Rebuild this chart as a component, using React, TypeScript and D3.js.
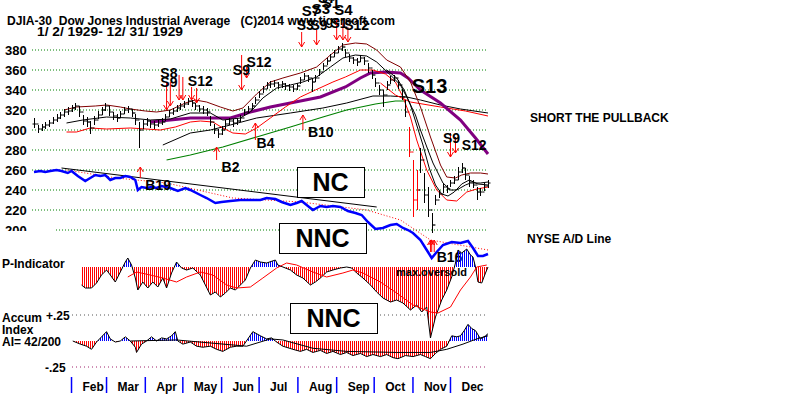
import * as d3 from "d3"

const START = new Date(1929, 0, 2)
const END = new Date(1929, 11, 31)
const BAR_STEP = 3 // one bar every 3 calendar days
const FONT = "'Liberation Sans', Arial, sans-serif"

const priceTicks = [380, 360, 340, 320, 300, 280, 260, 240, 220, 200]
const monthLabels = ["Feb", "Mar", "Apr", "May", "Jun", "Jul", "Aug", "Sep", "Oct", "Nov", "Dec"]

// DJIA bars: [high, low, close]
const bars: [number, number, number][] = [
  [312, 302, 306], [305, 297, 301], [306, 299, 303], [308, 301, 305], [310, 303, 307], [313, 306, 310],
  [316, 308, 312], [318, 311, 315], [321, 313, 318], [323, 315, 319], [325, 318, 322], [327, 320, 324],
  [324, 313, 318], [315, 305, 309], [313, 303, 308], [309, 296, 302], [314, 305, 310], [319, 311, 315],
  [323, 315, 320], [327, 319, 324], [324, 314, 318], [318, 310, 314], [316, 308, 312], [319, 312, 316],
  [323, 316, 320], [324, 317, 321], [321, 313, 317], [316, 305, 310], [308, 282, 300], [310, 301, 306],
  [312, 304, 309], [310, 302, 306], [309, 301, 305], [310, 303, 307], [312, 305, 308], [316, 309, 313],
  [320, 313, 317], [322, 315, 319], [325, 318, 322], [327, 320, 324], [329, 322, 326], [332, 325, 329],
  [330, 323, 327], [327, 320, 324], [325, 318, 321], [324, 316, 320], [322, 314, 318], [314, 304, 308],
  [306, 296, 300], [301, 292, 296], [304, 295, 300], [310, 301, 306], [312, 305, 309], [311, 303, 307],
  [312, 305, 309], [315, 308, 312], [321, 314, 318], [324, 317, 321], [327, 320, 324], [333, 326, 330],
  [339, 332, 336], [344, 337, 341], [348, 341, 345], [349, 342, 346], [350, 343, 347], [348, 341, 345],
  [349, 342, 346], [347, 340, 344], [346, 339, 343], [345, 338, 341], [347, 340, 344], [353, 346, 350],
  [357, 350, 354], [355, 348, 352], [351, 338, 348], [355, 348, 352], [361, 354, 358], [367, 360, 364],
  [372, 365, 369], [376, 369, 373], [380, 373, 377], [384, 377, 381], [387, 379, 383], [381, 373, 377],
  [376, 368, 372], [373, 366, 370], [372, 364, 368], [375, 368, 372], [373, 365, 369], [367, 357, 362],
  [360, 351, 355], [352, 343, 347], [345, 335, 340], [340, 323, 335], [349, 340, 345], [354, 346, 350],
  [355, 348, 352], [350, 341, 345], [341, 330, 333], [330, 313, 318], [303, 273, 278], [270, 213, 230],
  [260, 220, 240], [282, 257, 270], [257, 227, 235], [243, 213, 220], [217, 197, 205], [235, 225, 230],
  [240, 232, 236], [247, 237, 243], [245, 237, 241], [250, 243, 247], [254, 246, 250], [263, 250, 258],
  [267, 257, 262], [262, 250, 255], [254, 243, 248], [250, 242, 245], [243, 230, 238], [242, 234, 238],
  [247, 239, 244], [250, 242, 247],
]
const redBars = [100, 101, 102]

// moving averages and bands on the price axis: [day since Jan 2, value]
const upperBand: [number, number][] = [
  [24, 320], [34, 323], [49, 324], [58, 325], [69, 323], [77, 321], [89, 319], [98, 318], [109, 320],
  [121, 327], [129, 330], [138, 328], [149, 323], [159, 319], [167, 322], [178, 336], [189, 348],
  [199, 352], [213, 357], [226, 363], [237, 375], [247, 385], [257, 387], [266, 386], [274, 380],
  [282, 370], [293, 363], [301, 348], [309, 323], [317, 293], [325, 265], [330, 253], [337, 252],
  [342, 255], [349, 257], [357, 257], [363, 256],
]
const midMA: [number, number][] = [
  [26, 307], [39, 310], [58, 313], [77, 312], [93, 310], [109, 311], [125, 317], [141, 317], [151, 310],
  [165, 312], [173, 318], [183, 332], [194, 342], [205, 345], [215, 348], [226, 353], [237, 363],
  [247, 372], [257, 375], [266, 374], [274, 368], [285, 355], [293, 345], [298, 333], [305, 315],
  [309, 300], [315, 280], [319, 267], [327, 247], [333, 240], [338, 240], [345, 245], [349, 247],
  [357, 247], [363, 248],
]
const fastMA: [number, number][] = [
  [282, 360], [290, 352], [296, 340], [301, 325], [306, 305], [311, 285], [316, 262], [321, 245],
  [326, 236], [331, 234], [336, 238], [342, 246], [348, 250], [355, 246], [363, 245],
]
const lowerBand: [number, number][] = [
  [26, 298], [34, 298], [45, 302], [58, 301], [77, 302], [90, 301], [101, 300], [113, 303], [125, 308],
  [133, 309], [143, 308], [151, 302], [159, 297], [169, 296], [178, 302], [189, 312], [201, 323],
  [213, 333], [225, 340], [239, 348], [249, 353], [261, 360], [271, 360], [281, 356], [289, 348],
  [295, 333], [301, 313], [306, 290], [314, 260], [322, 240], [330, 230], [338, 229], [346, 238],
  [354, 241], [363, 243],
]
const slowMA: [number, number][] = [
  [103, 285], [125, 297], [141, 300], [157, 305], [178, 312], [205, 317], [231, 322], [250, 327],
  [271, 334], [285, 334], [298, 333], [309, 330], [325, 325], [341, 321], [363, 317],
]
const greenMA: [number, number][] = [
  [106, 270], [125, 275], [151, 283], [178, 293], [205, 303], [231, 313], [250, 320], [273, 326],
  [289, 329], [297, 329],
]
const purpleMA: [number, number][] = [
  [93, 308], [109, 310], [125, 312], [157, 312], [173, 318], [189, 323], [205, 327], [229, 333],
  [249, 343], [261, 352], [269, 357], [281, 358], [293, 357], [299, 352], [309, 340], [325, 327],
  [341, 310], [353, 292], [363, 276],
]
const redLongMA: [number, number][] = [
  [277, 347], [289, 335], [301, 328], [325, 323], [345, 319], [363, 314],
]

// NYSE A/D line, drawn on the price axis
const adLine: [number, number][] = [
  [0, 258], [5, 259], [9, 258], [13, 259], [18, 260], [22, 259], [27, 257], [30, 259], [35, 254],
  [41, 249], [45, 252], [49, 255], [53, 254], [57, 255], [61, 250], [65, 252], [69, 252], [73, 254],
  [77, 253], [81, 250], [83, 240], [86, 243], [90, 242], [94, 243], [98, 242], [102, 244], [109, 242],
  [115, 239], [121, 242], [125, 240], [133, 235], [138, 232], [145, 227], [150, 228], [157, 229],
  [165, 230], [173, 230], [181, 230], [186, 232], [193, 231], [198, 228], [205, 225], [210, 227],
  [214, 229], [219, 224], [223, 220], [229, 224], [234, 223], [239, 224], [245, 223], [251, 219],
  [257, 217], [262, 215], [267, 208], [273, 201], [279, 202], [285, 205], [290, 206], [295, 202],
  [299, 200], [303, 197], [309, 190], [314, 180], [318, 172], [322, 178], [327, 185], [334, 188],
  [341, 187], [347, 189], [351, 182], [355, 174], [359, 174], [363, 176],
]
const adTrend: [number, number][] = [[22, 262], [274, 223]]
const adAvg: [number, number][] = [
  [26, 260], [66, 252], [106, 247], [159, 232], [213, 228], [266, 220], [293, 210], [317, 190], [363, 180],
]

// P-Indicator
const pInd: [number, number][] = [
  [38, -18], [41, -21], [46, -21], [50, -16], [54, -8], [58, -3], [61, -8], [65, -15], [69, -5],
  [73, 5], [75, 9], [78, 2], [81, -11], [83, -23], [87, -15], [91, -21], [95, -15], [99, -20],
  [103, -11], [106, -21], [110, -6], [114, 5], [118, -1], [122, -3], [127, -1], [133, -8], [137, -18],
  [141, -28], [145, -25], [149, -30], [153, -26], [157, -21], [161, -23], [165, -18], [169, -13],
  [173, -1], [177, 7], [181, 5], [186, 4], [193, 7], [195, 2], [199, 0], [205, -3], [210, -8],
  [215, -11], [221, -18], [225, -15], [229, -11], [234, -5], [239, -3], [245, -1], [250, 0],
  [254, -1], [258, -6], [263, -11], [269, -18], [274, -25], [279, -31], [285, -35], [290, -33],
  [295, -36], [301, -43], [306, -38], [310, -45], [314, -40], [317, -71], [321, -50], [326, -33],
  [330, -23], [334, -10], [337, 4], [339, 17], [342, 14], [346, 18], [349, 12], [351, 10], [353, 0],
  [355, -15], [358, -16], [361, -6], [363, 0],
]
const pMA: [number, number][] = [
  [75, -10], [82, -5], [93, -8], [103, -11], [114, -15], [122, -10], [133, -5], [143, -8], [154, -18],
  [162, -21], [173, -20], [183, -11], [194, -1], [202, 4], [210, 2], [223, -5], [234, -10], [247, -6],
  [255, -3], [263, -6], [277, -15], [290, -26], [303, -38], [317, -45], [323, -46], [333, -40],
  [341, -23], [349, -10], [354, 0], [362, 2],
]

// Accumulation Index
const accum: [number, number][] = [
  [31, 0], [37, -0.03], [42, -0.05], [46, -0.08], [50, -0.01], [54, 0.04], [58, 0.09], [61, 0.02],
  [65, -0.01], [69, 0], [73, 0.04], [77, 0], [81, -0.06], [82, -0.11], [86, -0.03], [90, 0], [94, 0.04],
  [98, 0], [102, 0.03], [106, 0.02], [110, 0.05], [113, 0.09], [115, 0], [119, -0.03], [125, -0.01],
  [130, -0.05], [135, -0.06], [141, -0.05], [146, -0.08], [151, -0.1], [157, -0.06], [162, -0.05],
  [167, -0.05], [171, 0.02], [175, 0.09], [181, 0.05], [186, 0.02], [190, 0.03], [194, -0.01],
  [199, -0.05], [207, -0.08], [213, -0.1], [218, -0.08], [223, -0.11], [229, -0.09], [234, -0.12],
  [239, -0.1], [245, -0.13], [250, -0.11], [255, -0.14], [261, -0.12], [266, -0.15], [271, -0.13],
  [277, -0.15], [282, -0.13], [287, -0.16], [291, -0.17], [297, -0.14], [303, -0.15], [309, -0.13],
  [313, -0.15], [317, -0.17], [321, -0.12], [325, -0.08], [330, -0.05], [334, 0.05], [338, 0.04],
  [341, 0.05], [344, 0.1], [347, 0.16], [350, 0.12], [353, 0.1], [357, 0.02], [361, 0.05], [363, 0.07],
]
const accumMA: [number, number][] = [
  [77, 0], [114, 0.01], [170, -0.05], [189, 0.02], [199, 0.01], [223, -0.07], [250, -0.1], [290, -0.11],
  [303, -0.11], [317, -0.11], [330, -0.08], [343, -0.03], [354, 0.02], [363, 0.05],
]

// signals: [day, from price, to price]
const sellArrows: [number, number, number][] = [
  [106, 347, 320], [109, 348, 324], [116, 355, 330], [119, 353, 330], [126, 343, 330], [130, 342, 327],
  [166, 375, 340], [170, 363, 352], [214, 398, 383], [226, 400, 385], [242, 410, 390], [247, 407, 390],
  [251, 403, 388], [333, 297, 273], [337, 293, 277],
]
const buyArrows: [number, number, number][] = [
  [85, 252, 263], [146, 270, 283], [177, 290, 307], [215, 300, 315], [317, 178, 190], [318, 178, 190],
  [320, 178, 190],
]
// [text, day, price, font size]
const signalLabels: [string, number, number, number][] = [
  ["S8", 101, 352, 14], ["S9", 101, 343, 14], ["S12", 123, 344, 14], ["S9", 159, 355, 14],
  ["S12", 170, 363, 14], ["S7", 227, 427, 15], ["S7", 214, 414, 15], ["S3", 222, 416, 15],
  ["S1", 230, 422, 15], ["S4", 240, 415, 15], ["S3", 210, 400, 14], ["S9", 221, 400, 14],
  ["S1", 237, 402, 14], ["S12", 248, 400, 14], ["S13", 302, 337, 20], ["S9", 327, 287, 14],
  ["S12", 342, 280, 14], ["B19", 89, 240, 14], ["B2", 150, 258, 14], ["B4", 178, 282, 14],
  ["B10", 219, 293, 14], ["B16", 322, 168, 14],
]

const day = (d: number) => d3.timeDay.offset(START, d)

export default function App() {
  const x = d3.scaleTime().domain([START, END]).range([34, 488])
  const yP = d3.scaleLinear().domain([200, 380]).range([230, 50])
  const yI = d3.scaleLinear().domain([0, -50]).range([267, 317])
  const yA = d3.scaleLinear().domain([-0.25, 0.25]).range([367, 315])

  const lineFor = (y: d3.ScaleLinear<number, number>) =>
    d3.line<[number, number]>().x(d => x(day(d[0]))).y(d => y(d[1]))
  const pLine = lineFor(yP)
  const iLine = lineFor(yI)
  const aLine = lineFor(yA)
  const iArea = d3.area<[number, number]>().x(d => x(day(d[0]))).y0(yI(0)).y1(d => yI(d[1]))
  const aArea = d3.area<[number, number]>().x(d => x(day(d[0]))).y0(yA(0)).y1(d => yA(d[1]))

  const months = d3.timeMonth.range(new Date(1929, 1, 1), new Date(1929, 11, 2))

  const bold = { fontFamily: FONT, fontWeight: "bold" as const, fill: "#000" }

  return (
    <svg width={800} height={397} style={{ position: "absolute", left: 0, top: 0, background: "#fff" }}>
      <defs>
        <pattern id="hr" width="2" height="4" patternUnits="userSpaceOnUse">
          <rect width="1" height="4" fill="#ff0000" />
        </pattern>
        <pattern id="hb" width="2" height="4" patternUnits="userSpaceOnUse">
          <rect width="1" height="4" fill="#0000ff" />
        </pattern>
        <clipPath id="iUp"><rect x={0} y={0} width={800} height={yI(0)} /></clipPath>
        <clipPath id="iDn"><rect x={0} y={yI(0)} width={800} height={200} /></clipPath>
        <clipPath id="aUp"><rect x={0} y={0} width={800} height={yA(0)} /></clipPath>
        <clipPath id="aDn"><rect x={0} y={yA(0)} width={800} height={200} /></clipPath>
        <clipPath id="cut200"><rect x={0} y={0} width={60} height={231} /></clipPath>
      </defs>

      {/* title */}
      <text x={7} y={25} fontSize={12} textLength={388} lengthAdjust="spacingAndGlyphs"
        style={{ whiteSpace: "pre" }} {...bold}>
        {"DJIA-30  Dow Jones Industrial Average   (C)2014 www.tigersoft.com"}
      </text>
      <text x={37} y={36} fontSize={12} textLength={146} lengthAdjust="spacingAndGlyphs" {...bold}>
        1/ 2/ 1929- 12/ 31/ 1929
      </text>

      {/* price grid */}
      {priceTicks.map(t => (
        <g key={t}>
          <line x1={t === 200 ? 56 : 32} x2={488} y1={yP(t)} y2={yP(t)} stroke="#008000" strokeDasharray="1,2" />
          <text x={5} y={yP(t) + 5} fontSize={13} clipPath={t === 200 ? "url(#cut200)" : undefined} {...bold}>{t}</text>
        </g>
      ))}

      {/* moving averages */}
      <path d={pLine(greenMA)!} fill="none" stroke="#008000" strokeWidth={1.2} />
      <path d={pLine(slowMA)!} fill="none" stroke="#000" strokeWidth={1} />
      <path d={pLine(redLongMA)!} fill="none" stroke="#ff0000" strokeWidth={1} />
      <path d={pLine(purpleMA)!} fill="none" stroke="#800080" strokeWidth={3} />
      <path d={pLine(upperBand)!} fill="none" stroke="#800000" strokeWidth={1} />
      <path d={pLine(lowerBand)!} fill="none" stroke="#ff0000" strokeWidth={1} />
      <path d={pLine(midMA)!} fill="none" stroke="#000" strokeWidth={1} />
      <path d={pLine(fastMA)!} fill="none" stroke="#000" strokeWidth={1} />

      {/* A/D line */}
      <path d={pLine(adTrend)!} fill="none" stroke="#000" strokeWidth={1} />
      <path d={pLine(adAvg)!} fill="none" stroke="#ff0000" strokeDasharray="1,2" />
      <path d={pLine(adLine)!} fill="none" stroke="#0000ff" strokeWidth={2.5} />

      {/* price bars */}
      {bars.map((b, i) => {
        const bx = Math.round(x(day(i * BAR_STEP))) + 0.5
        const c = redBars.includes(i) ? "#ff0000" : "#000"
        const prev = i > 0 ? bars[i - 1][2] : b[2]
        return (
          <g key={i} stroke={c}>
            <line x1={bx} x2={bx} y1={yP(b[0])} y2={yP(b[1])} />
            <line x1={bx - 2} x2={bx} y1={yP(prev)} y2={yP(prev)} />
            <line x1={bx} x2={bx + 2} y1={yP(b[2])} y2={yP(b[2])} />
          </g>
        )
      })}

      {/* signal arrows */}
      {sellArrows.map(([d, a, b], i) => {
        const ax = x(day(d))
        const y2 = yP(b)
        return (
          <g key={"s" + i} stroke="#ff0000" fill="none">
            <line x1={ax} x2={ax} y1={yP(a)} y2={y2} />
            <polyline points={`${ax - 3},${y2 - 5} ${ax},${y2} ${ax + 3},${y2 - 5}`} />
          </g>
        )
      })}
      {buyArrows.map(([d, a, b], i) => {
        const ax = x(day(d))
        const y2 = yP(b)
        return (
          <g key={"b" + i} stroke="#ff0000" fill="none">
            <line x1={ax} x2={ax} y1={yP(a)} y2={y2} />
            <polyline points={`${ax - 3},${y2 + 5} ${ax},${y2} ${ax + 3},${y2 + 5}`} />
          </g>
        )
      })}
      {signalLabels.map(([t, d, p, s], i) => (
        <text key={"l" + i} x={x(day(d))} y={yP(p)} fontSize={s} {...bold}>{t}</text>
      ))}

      {/* P-Indicator */}
      <text x={2} y={268} fontSize={12} {...bold}>P-Indicator</text>
      <path d={iArea(pInd)!} fill="url(#hb)" clipPath="url(#iUp)" />
      <path d={iArea(pInd)!} fill="url(#hr)" clipPath="url(#iDn)" />
      <path d={iLine(pInd)!} fill="none" stroke="#000" />
      <path d={iLine(pMA)!} fill="none" stroke="#ff0000" />
      <text x={396} y={276} fontSize={11} {...bold}>max.oversold</text>

      {/* Accumulation index */}
      <line x1={72} x2={488} y1={yA(0.25)} y2={yA(0.25)} stroke="#555" strokeDasharray="1,3" />
      <line x1={72} x2={488} y1={yA(-0.25)} y2={yA(-0.25)} stroke="#a0206a" strokeDasharray="1,3" />
      <text x={46} y={320} fontSize={12} {...bold}>+.25</text>
      <text x={45} y={372} fontSize={12} {...bold}>-.25</text>
      <text x={2} y={322} fontSize={12} {...bold}>Accum</text>
      <text x={2} y={334} fontSize={12} {...bold}>Index</text>
      <text x={2} y={346} fontSize={12} {...bold}>AI= 42/200</text>
      <path d={aArea(accum)!} fill="url(#hb)" clipPath="url(#aUp)" />
      <path d={aArea(accum)!} fill="url(#hr)" clipPath="url(#aDn)" />
      <path d={aLine(accum)!} fill="none" stroke="#000" />
      <path d={aLine(accumMA)!} fill="none" stroke="#000" />

      {/* comment boxes */}
      {[
        { t: "NC", x0: 297, y0: 167, w: 67 },
        { t: "NNC", x0: 279, y0: 223, w: 87 },
        { t: "NNC", x0: 290, y0: 303, w: 87 },
      ].map((b, i) => (
        <g key={"box" + i}>
          <rect x={b.x0 + 0.5} y={b.y0 + 0.5} width={b.w} height={30} fill="#fff" stroke="#000" />
          <text x={b.x0 + b.w / 2} y={b.y0 + 24} textAnchor="middle" fontSize={25} {...bold}>{b.t}</text>
        </g>
      ))}

      <text x={530} y={122} fontSize={12} {...bold}>SHORT THE PULLBACK</text>
      <text x={527} y={243} fontSize={12} {...bold}>NYSE A/D Line</text>

      {/* month axis */}
      {months.map((m, i) => (
        <g key={"m" + i}>
          <line x1={x(m)} x2={x(m)} y1={377} y2={393} stroke="#0000ff" strokeWidth={1.5} />
          <text x={x(m) + 11} y={391} fontSize={12} {...bold}>{monthLabels[i]}</text>
        </g>
      ))}
    </svg>
  )
}
